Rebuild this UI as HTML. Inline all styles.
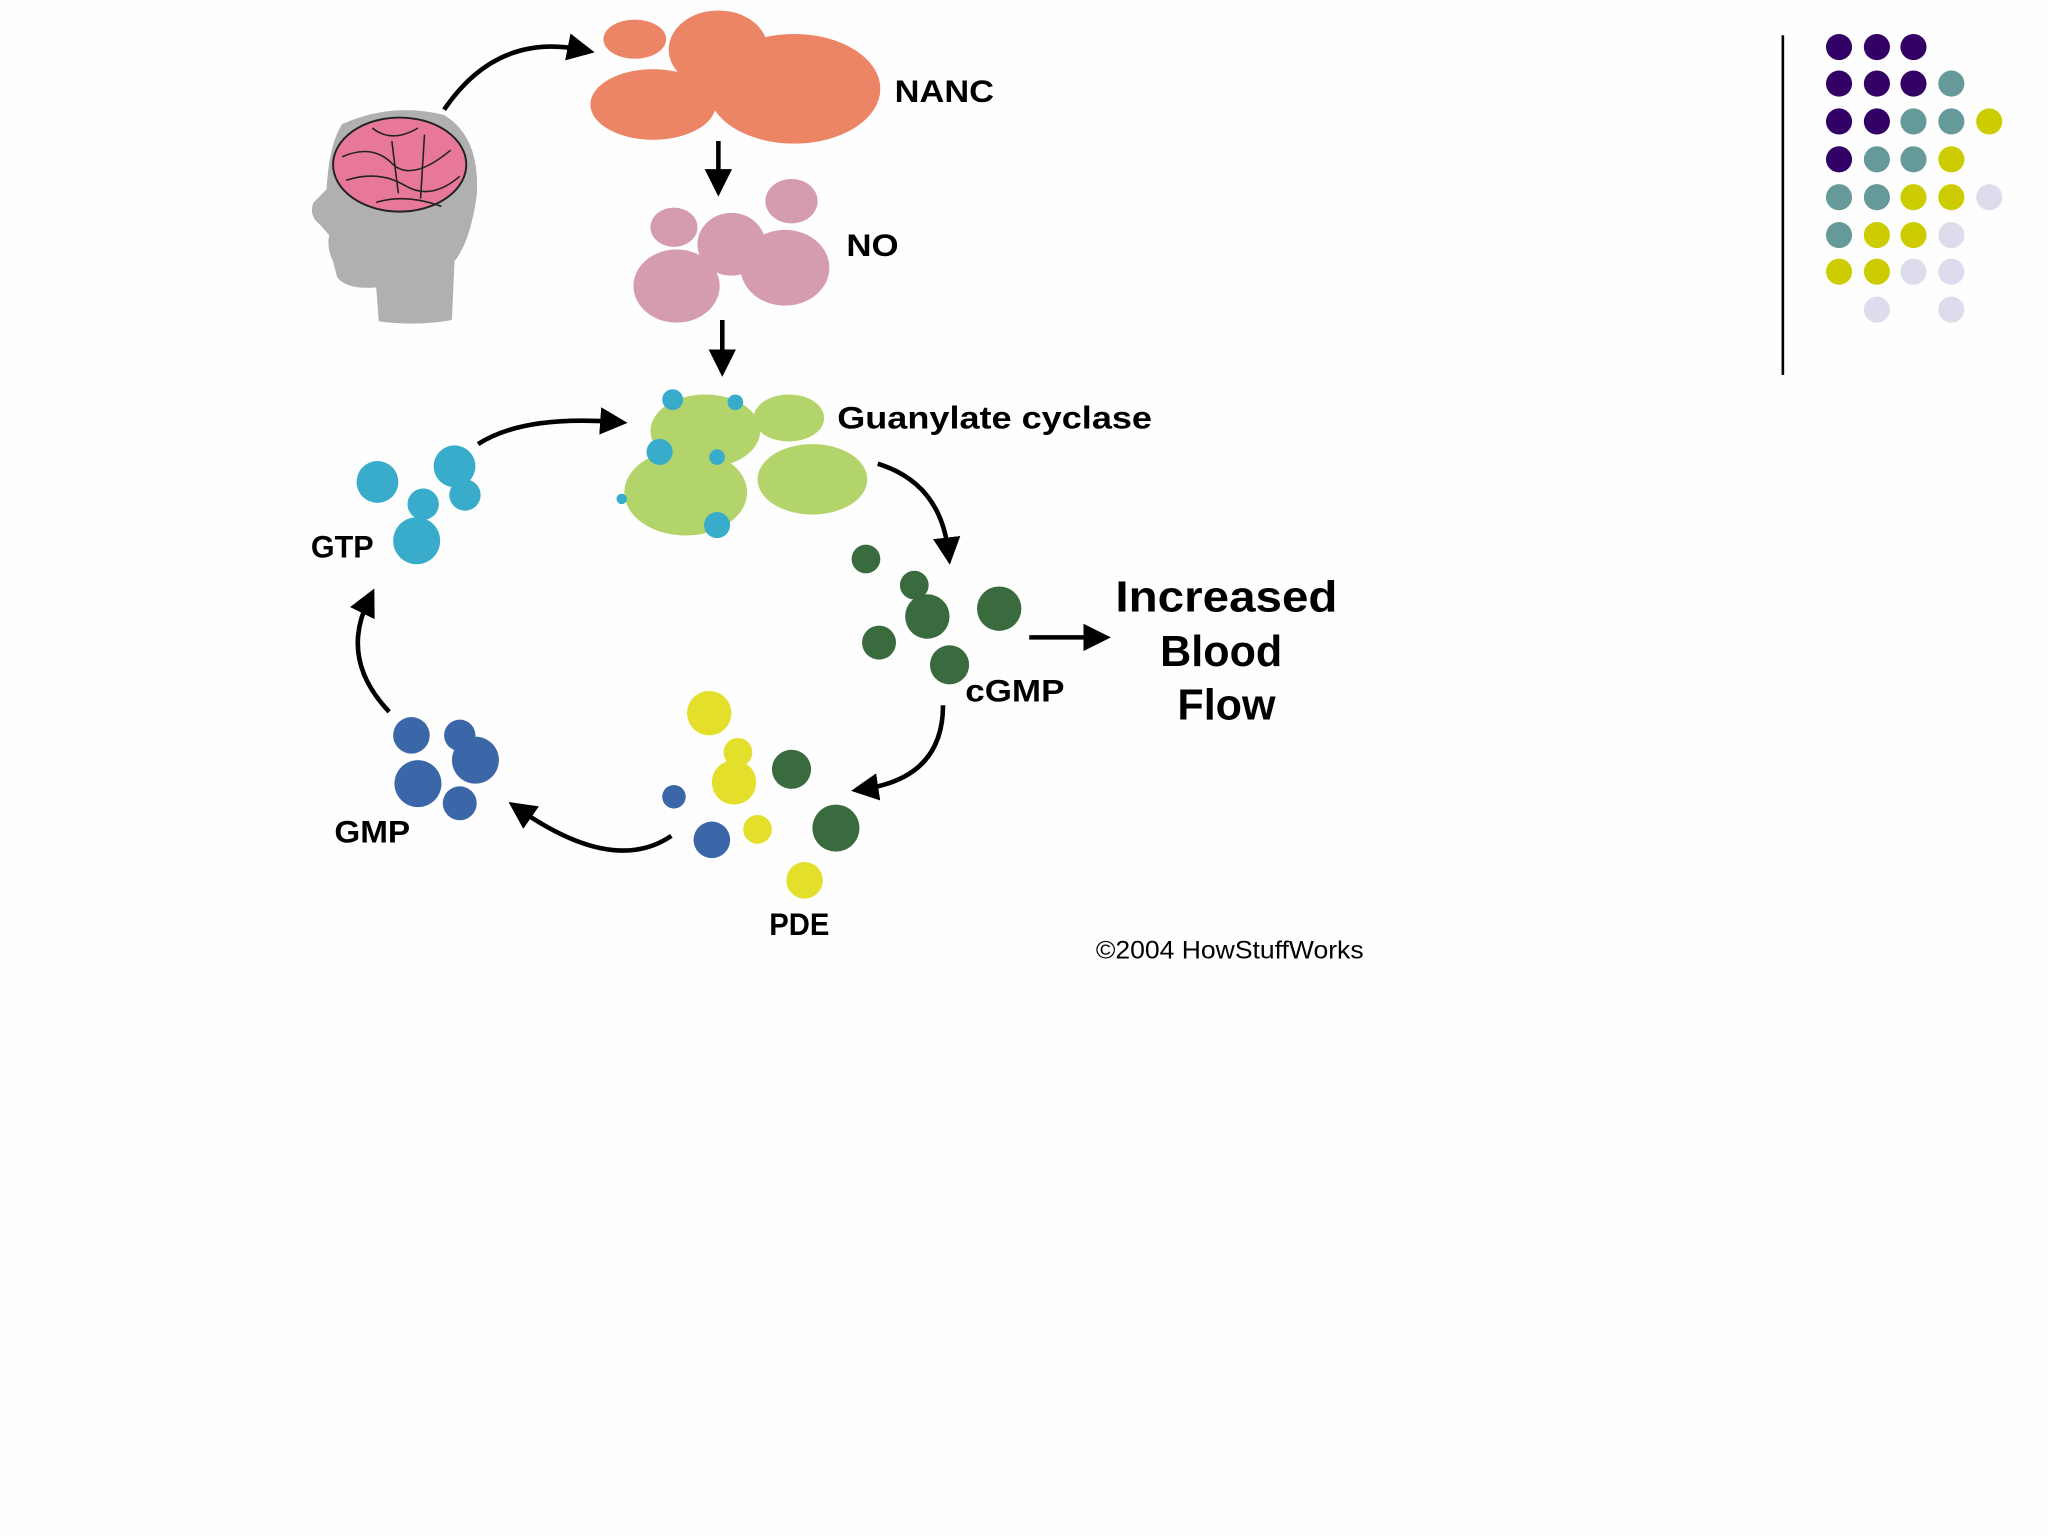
<!DOCTYPE html>
<html><head><style>html,body{margin:0;padding:0;background:#fefefe;width:2048px;height:1536px;overflow:hidden}svg{display:block}</style></head><body>
<svg width="2048" height="1536" viewBox="0 0 1568 1176" xmlns="http://www.w3.org/2000/svg" font-family="Liberation Sans, sans-serif">
<defs>
<marker id="a" markerWidth="6" markerHeight="6" refX="3" refY="3" orient="auto" markerUnits="strokeWidth"><path d="M0,0 L6,3 L0,6 z" fill="#000"/></marker>
</defs>
<rect width="1568" height="1176" fill="#fefefe"/>
<!-- head -->
<path d="M262,95 Q300,78 340,88 Q368,105 365,150 Q360,185 348,200 L346,245 Q320,250 290,246 L288,220 Q265,222 258,212 L255,200 Q250,190 252,180 L245,172 Q236,165 240,155 L250,145 Q252,110 262,95 z" fill="#b0b0b0"/>
<ellipse cx="306" cy="126" rx="51" ry="36" fill="#e8789a" stroke="#222" stroke-width="1.5"/>
<g stroke="#222" stroke-width="1.2" fill="none"><path d="M262,120 Q285,110 300,125 T345,115"/><path d="M265,138 Q290,130 310,142 T352,135"/><path d="M285,98 Q300,110 320,98"/><path d="M288,155 Q310,148 338,158"/><path d="M300,108 L305,148"/><path d="M325,103 L322,152"/></g>
<!-- NANC -->
<g fill="#ec8466"><ellipse cx="486" cy="30" rx="24" ry="15"/><ellipse cx="550" cy="38" rx="38" ry="30"/><ellipse cx="500" cy="80" rx="48" ry="27"/><ellipse cx="608" cy="68" rx="66" ry="42"/></g>
<text x="685" y="78" font-size="24" font-weight="bold" textLength="76" lengthAdjust="spacingAndGlyphs">NANC</text>
<!-- NO -->
<g fill="#d49cae"><ellipse cx="606" cy="154" rx="20" ry="17"/><ellipse cx="516" cy="174" rx="18" ry="15"/><ellipse cx="560" cy="187" rx="26" ry="24"/><ellipse cx="601" cy="205" rx="34" ry="29"/><ellipse cx="518" cy="219" rx="33" ry="28"/></g>
<text x="648" y="196" font-size="24" font-weight="bold" textLength="40" lengthAdjust="spacingAndGlyphs">NO</text>
<!-- arrows -->
<g stroke="#000" stroke-width="3.5" fill="none">
<path d="M340,84 Q380,25 445,38" marker-end="url(#a)"/>
<path d="M550,108 L550,140" marker-end="url(#a)"/>
<path d="M553,245 L553,278" marker-end="url(#a)"/>
<path d="M366,340 Q400,318 470,323" marker-end="url(#a)"/>
<path d="M672,355 Q720,370 726,422" marker-end="url(#a)"/>
<path d="M788,488 L840,488" marker-end="url(#a)"/>
<path d="M722,540 Q722,595 662,604" marker-end="url(#a)"/>
<path d="M514,640 Q470,670 398,620" marker-end="url(#a)"/>
<path d="M298,545 Q260,505 282,460" marker-end="url(#a)"/>
</g>
<!-- Guanylate cyclase -->
<g fill="#b3d46a"><ellipse cx="540" cy="330" rx="42" ry="28"/><ellipse cx="604" cy="320" rx="27" ry="18"/><ellipse cx="525" cy="377" rx="47" ry="33"/><ellipse cx="622" cy="367" rx="42" ry="27"/></g>
<g fill="#3aaccb"><circle cx="515" cy="306" r="8"/><circle cx="563" cy="308" r="6"/><circle cx="505" cy="346" r="10"/><circle cx="549" cy="350" r="6"/><circle cx="549" cy="402" r="10"/><circle cx="476" cy="382" r="4"/></g>
<text x="641" y="328" font-size="24" font-weight="bold" textLength="241" lengthAdjust="spacingAndGlyphs">Guanylate cyclase</text>
<!-- GTP -->
<g fill="#3aaccb"><circle cx="289" cy="369" r="16"/><circle cx="348" cy="357" r="16"/><circle cx="356" cy="379" r="12"/><circle cx="324" cy="386" r="12"/><circle cx="319" cy="414" r="18"/></g>
<text x="238" y="427" font-size="24" font-weight="bold" textLength="48" lengthAdjust="spacingAndGlyphs">GTP</text>
<!-- cGMP -->
<g fill="#3a6b3e"><circle cx="663" cy="428" r="11"/><circle cx="700" cy="448" r="11"/><circle cx="710" cy="472" r="17"/><circle cx="765" cy="466" r="17"/><circle cx="673" cy="492" r="13"/><circle cx="727" cy="509" r="15"/></g>
<text x="739" y="537" font-size="24" font-weight="bold" textLength="76" lengthAdjust="spacingAndGlyphs">cGMP</text>
<text font-size="33" font-weight="bold" text-anchor="middle"><tspan x="939" y="468" textLength="170" lengthAdjust="spacingAndGlyphs">Increased</tspan><tspan x="935" y="510">Blood</tspan><tspan x="939" y="551">Flow</tspan></text>
<!-- PDE -->
<g fill="#e4df2a"><circle cx="543" cy="546" r="17"/><circle cx="565" cy="576" r="11"/><circle cx="562" cy="599" r="17"/><circle cx="580" cy="635" r="11"/><circle cx="616" cy="674" r="14"/></g>
<g fill="#3a6b3e"><circle cx="606" cy="589" r="15"/><circle cx="640" cy="634" r="18"/></g>
<g fill="#3b67a8"><circle cx="516" cy="610" r="9"/><circle cx="545" cy="643" r="14"/></g>
<text x="589" y="716" font-size="24" font-weight="bold" textLength="46" lengthAdjust="spacingAndGlyphs">PDE</text>
<!-- GMP -->
<g fill="#3b67a8"><circle cx="315" cy="563" r="14"/><circle cx="352" cy="563" r="12"/><circle cx="364" cy="582" r="18"/><circle cx="320" cy="600" r="18"/><circle cx="352" cy="615" r="13"/></g>
<text x="256" y="645" font-size="24" font-weight="bold" textLength="58" lengthAdjust="spacingAndGlyphs">GMP</text>
<text x="839" y="734" font-size="19" textLength="205" lengthAdjust="spacingAndGlyphs">©2004 HowStuffWorks</text>
<!-- decoration -->
<line x1="1365" y1="27" x2="1365" y2="287" stroke="#000" stroke-width="2"/>
<g>
<circle cx="1408" cy="36" r="10" fill="#330066"/><circle cx="1437" cy="36" r="10" fill="#330066"/><circle cx="1465" cy="36" r="10" fill="#330066"/>
<circle cx="1408" cy="64" r="10" fill="#330066"/><circle cx="1437" cy="64" r="10" fill="#330066"/><circle cx="1465" cy="64" r="10" fill="#330066"/><circle cx="1494" cy="64" r="10" fill="#669999"/>
<circle cx="1408" cy="93" r="10" fill="#330066"/><circle cx="1437" cy="93" r="10" fill="#330066"/><circle cx="1465" cy="93" r="10" fill="#669999"/><circle cx="1494" cy="93" r="10" fill="#669999"/><circle cx="1523" cy="93" r="10" fill="#cccc00"/>
<circle cx="1408" cy="122" r="10" fill="#330066"/><circle cx="1437" cy="122" r="10" fill="#669999"/><circle cx="1465" cy="122" r="10" fill="#669999"/><circle cx="1494" cy="122" r="10" fill="#cccc00"/>
<circle cx="1408" cy="151" r="10" fill="#669999"/><circle cx="1437" cy="151" r="10" fill="#669999"/><circle cx="1465" cy="151" r="10" fill="#cccc00"/><circle cx="1494" cy="151" r="10" fill="#cccc00"/><circle cx="1523" cy="151" r="10" fill="#dcdcec"/>
<circle cx="1408" cy="180" r="10" fill="#669999"/><circle cx="1437" cy="180" r="10" fill="#cccc00"/><circle cx="1465" cy="180" r="10" fill="#cccc00"/><circle cx="1494" cy="180" r="10" fill="#dcdcec"/>
<circle cx="1408" cy="208" r="10" fill="#cccc00"/><circle cx="1437" cy="208" r="10" fill="#cccc00"/><circle cx="1465" cy="208" r="10" fill="#dcdcec"/><circle cx="1494" cy="208" r="10" fill="#dcdcec"/>
<circle cx="1437" cy="237" r="10" fill="#dcdcec"/><circle cx="1494" cy="237" r="10" fill="#dcdcec"/>
</g>
</svg>
</body></html>
